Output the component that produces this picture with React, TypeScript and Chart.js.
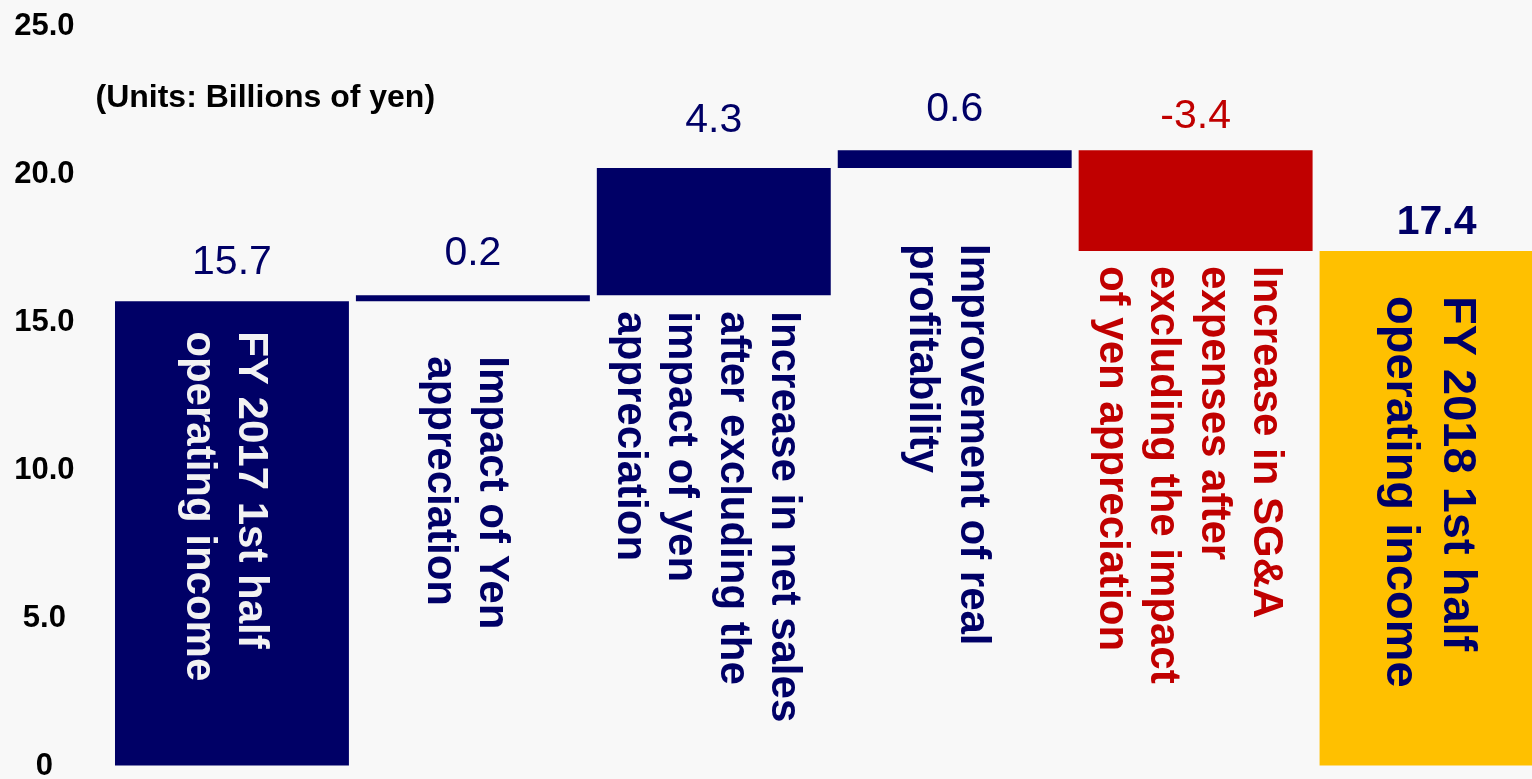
import React, { useEffect, useRef } from 'react';
import { Chart, registerables } from 'chart.js';

Chart.register(...registerables);

// ---- data ----
const categoryLines: string[][] = [
  ['FY 2017 1st half', 'operating income'],
  ['Impact of Yen', 'appreciation'],
  ['Increase in net sales', 'after excluding the', 'impact of yen', 'appreciation'],
  ['Improvement of real', 'profitability'],
  ['Increase in SG&A', 'expenses after', 'excluding the impact', 'of yen appreciation'],
  ['FY 2018 1st half', 'operating income'],
];
const changes = [15.7, 0.2, 4.3, 0.6, -3.4, 17.4];
const isTotal = [true, false, false, false, false, true];
const yTickLabels = ['0', '5.0', '10.0', '15.0', '20.0', '25.0'];
const unitsText = '(Units: Billions of yen)';

// ---- styling ----
const NAVY = '#000066';
const RED = '#C00000';
const GOLD = '#FFC000';
const BG = '#F8F8F8';
const FONT = '"Liberation Sans", Arial, sans-serif';

const barColors = [NAVY, NAVY, NAVY, NAVY, RED, GOLD];
const valueColors = [NAVY, NAVY, NAVY, NAVY, RED, NAVY];
const valueBold = [false, false, false, false, false, true];
const valueGap = [27, 30, 36, 29, 22, 17];
const textColors = ['#F2F2F2', NAVY, NAVY, NAVY, RED, NAVY];
const textInside = [true, false, false, false, false, true];
const textGap = [30, 55, 16, 76, 15, 45];
const textSize = [42, 42, 42, 42, 42, 47];

// floating ranges built from the step values
const ranges: [number, number][] = (() => {
  let run = 0;
  return changes.map((v, i) => {
    if (isTotal[i]) {
      run = v;
      return [0, v] as [number, number];
    }
    const start = run;
    run = run + v;
    return [Math.min(start, run), Math.max(start, run)] as [number, number];
  });
})();

const labelPlugin = {
  id: 'waterfallLabels',
  beforeDraw(chart: any) {
    const { ctx, width, height } = chart;
    ctx.save();
    ctx.fillStyle = BG;
    ctx.fillRect(0, 0, width, height);
    ctx.restore();
  },
  afterDatasetsDraw(chart: any) {
    const { ctx, chartArea } = chart;
    const meta = chart.getDatasetMeta(0);
    ctx.save();

    // units note
    ctx.font = `bold 32px ${FONT}`;
    ctx.fillStyle = '#000000';
    ctx.textAlign = 'left';
    ctx.textBaseline = 'alphabetic';
    ctx.fillText(unitsText, chartArea.left - 16, chartArea.top + 81);

    meta.data.forEach((el: any, i: number) => {
      const { x, y, base } = el.getProps(['x', 'y', 'base'], true);
      const top = Math.min(y, base);
      const bottom = Math.max(y, base);

      // value above bar
      const v = changes[i];
      ctx.font = `${valueBold[i] ? 'bold ' : ''}41px ${FONT}`;
      ctx.fillStyle = valueColors[i];
      ctx.textAlign = 'center';
      ctx.textBaseline = 'alphabetic';
      ctx.fillText(v.toFixed(1), x, top - valueGap[i]);

      // rotated category text
      const lines = categoryLines[i];
      const fs = textSize[i];
      const lh = fs * 1.22;
      const startY = textInside[i] ? top + textGap[i] : bottom + textGap[i];
      ctx.save();
      ctx.translate(x, startY);
      ctx.rotate(Math.PI / 2);
      ctx.font = `bold ${fs}px ${FONT}`;
      ctx.fillStyle = textColors[i];
      ctx.textAlign = 'left';
      ctx.textBaseline = 'alphabetic';
      const n = lines.length;
      lines.forEach((line, j) => {
        const offset = 0.45 * fs - ((n - 1) / 2 - j) * lh;
        ctx.fillText(line, 0, offset);
      });
      ctx.restore();
    });
    ctx.restore();
  },
};

const WaterfallChart: React.FC = () => {
  const chartRef = useRef<HTMLCanvasElement>(null);
  const chartInstanceRef = useRef<Chart | null>(null);

  useEffect(() => {
    if (!chartRef.current) return;
    const ctx = chartRef.current.getContext('2d');
    if (!ctx) return;
    if (chartInstanceRef.current) chartInstanceRef.current.destroy();

    chartInstanceRef.current = new Chart(ctx, {
      type: 'bar',
      data: {
        labels: categoryLines.map((l) => l.join(' ')),
        datasets: [
          {
            data: ranges as any,
            backgroundColor: barColors,
            borderWidth: 0,
            barPercentage: 0.971,
            categoryPercentage: 1,
          },
        ],
      },
      options: {
        responsive: true,
        maintainAspectRatio: false,
        animation: false,
        layout: { padding: { top: 26, bottom: 24, right: 3, left: 0 } },
        scales: {
          x: { display: false },
          y: {
            min: 0,
            max: 25,
            // invisible tick marks give the gap between labels and bars
            grid: {
              display: true,
              drawOnChartArea: false,
              drawTicks: true,
              tickLength: 37,
              color: 'rgba(0,0,0,0)',
            },
            border: { display: false },
            afterFit: (scale: any) => {
              scale.width = 111.5;
            },
            ticks: {
              stepSize: 5,
              padding: 0,
              crossAlign: 'center',
              color: '#000000',
              font: { family: FONT, size: 31, weight: 'bold' },
              callback: (_v: any, idx: number) => yTickLabels[idx],
            },
          },
        },
        plugins: {
          legend: { display: false },
          tooltip: { enabled: false },
          title: { display: false },
        },
      },
      plugins: [labelPlugin],
    });

    return () => {
      if (chartInstanceRef.current) {
        chartInstanceRef.current.destroy();
        chartInstanceRef.current = null;
      }
    };
  }, []);

  return (
    <div
      style={{
        position: 'fixed',
        left: 0,
        top: 0,
        width: '100vw',
        height: '100vh',
        overflow: 'hidden',
        background: BG,
      }}
    >
      <div style={{ position: 'relative', width: 1560, height: 790 }}>
        <canvas ref={chartRef}></canvas>
      </div>
    </div>
  );
};

export default function App() {
  return <WaterfallChart />;
}
